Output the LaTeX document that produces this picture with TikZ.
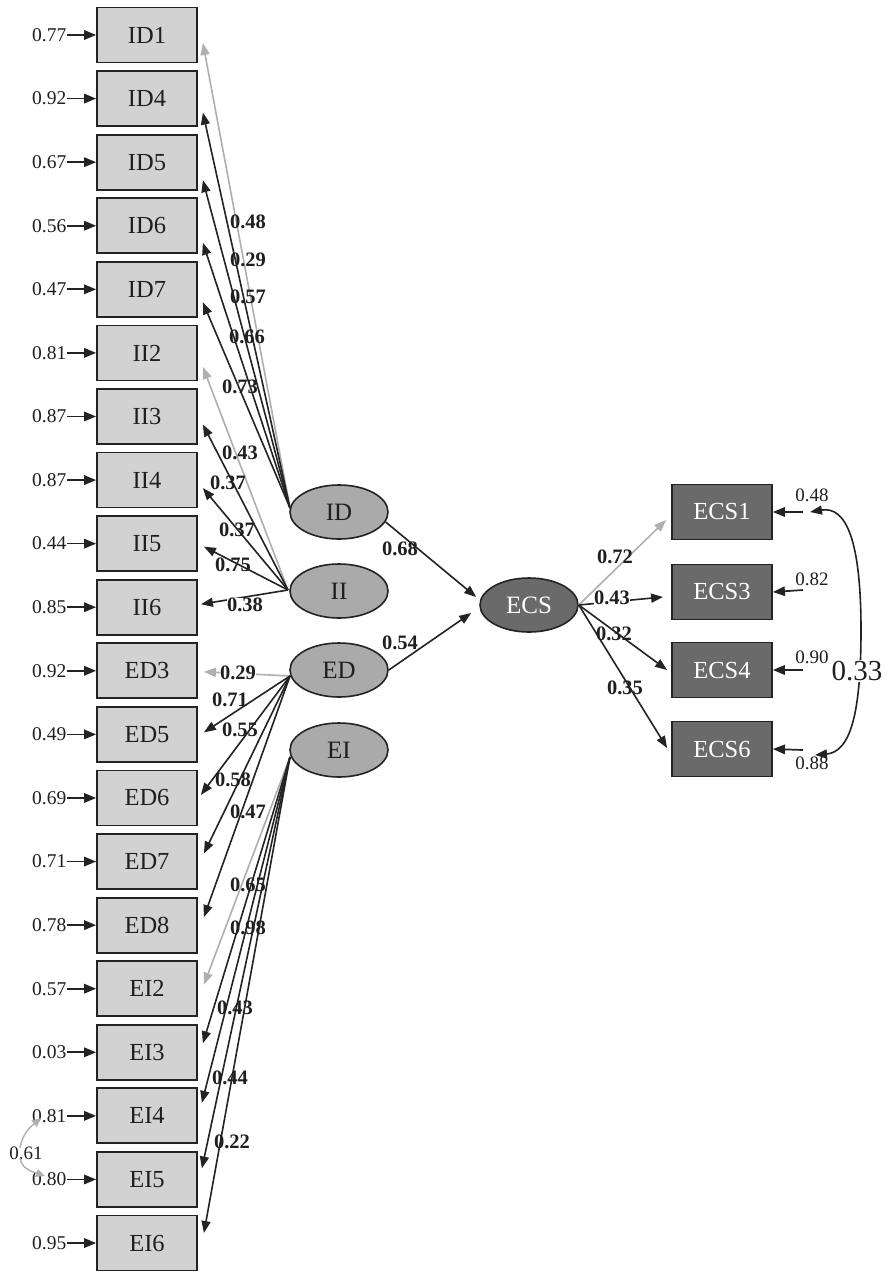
\documentclass[tikz,border=0pt]{standalone}
\usepackage{fontspec}
\setmainfont{Liberation Serif}
\usetikzlibrary{shapes.geometric,arrows.meta,calc}
\definecolor{boxfill}{RGB}{210,210,210}
\definecolor{latfill}{RGB}{170,170,170}
\definecolor{darkfill}{RGB}{106,106,106}
\definecolor{lineblk}{RGB}{35,35,35}
\definecolor{fixgray}{RGB}{175,175,175}
\begin{document}
\begin{tikzpicture}[x=1pt,y=-1pt,
  obsbox/.style={rectangle,draw=lineblk,line width=1.8pt,fill=boxfill,minimum width=100pt,minimum height=55pt,inner sep=0pt,text=black!88,font=\fontsize{24.5}{26}\selectfont},
  ecsbox/.style={obsbox,fill=darkfill,text=white},
  latent/.style={ellipse,draw=lineblk,line width=1.6pt,fill=latfill,minimum width=98pt,minimum height=54pt,inner sep=0pt,text=black!88,font=\fontsize{25}{26}\selectfont},
  errlab/.style={anchor=east,inner sep=0.5pt,text=black!88,font=\fontsize{19.5}{20}\selectfont},
  rerrlab/.style={inner sep=0.5pt,text=black!88,font=\fontsize{19}{20}\selectfont},
  errarr/.style={-{Triangle[length=12pt,width=9.5pt]},line width=1.7pt,draw=lineblk},
  load/.style={-{Triangle[length=12pt,width=9pt]},line width=1.6pt,draw=lineblk},
  fixload/.style={load,draw=fixgray},
  lbl/.style={inner sep=0.5pt,text=black!88,font=\bfseries\fontsize{20.5}{21}\selectfont},
  lblw/.style={lbl,fill=white},
  covarr/.style={{Triangle[length=12pt,width=9pt]}-{Triangle[length=12pt,width=9pt]},line width=1.6pt,draw=lineblk},
  gcovarr/.style={-{Triangle[length=9pt,width=8pt]},line width=1.4pt,draw=fixgray}]
\useasboundingbox[fill=white] (0,0) rectangle (887,1272);

% observed indicators (left column)
\foreach \n/\v [count=\i from 0] in {ID1/0.77,ID4/0.92,ID5/0.67,ID6/0.56,ID7/0.47,II2/0.81,II3/0.87,II4/0.87,II5/0.44,II6/0.85,ED3/0.92,ED5/0.49,ED6/0.69,ED7/0.71,ED8/0.78,EI2/0.57,EI3/0.03,EI4/0.81,EI5/0.80,EI6/0.95}{
  \node[obsbox] (\n) at (147,{35+63.58*\i}) {\n};
  \node[errlab] (e\n) at (67,{35+63.58*\i}) {\v};
  \draw[errarr] (e\n.east) -- (\n.west);
}

% latent factors
\node[latent] (ID) at (339,512) {ID};
\node[latent] (II) at (339,591) {II};
\node[latent] (ED) at (339,670) {ED};
\node[latent] (EI) at (339,750) {EI};
\node[latent,fill=darkfill,text=white] (ECS) at (529,605) {ECS};

% fan origins
\coordinate (IDo) at (290,508);
\coordinate (IIo) at (288,590);
\coordinate (EDo) at (290,676);
\coordinate (EIo) at (290,757);

% ID loadings
\draw[fixload] (IDo) -- ($(ID1.east)+(5,8)$);
\draw[load] (IDo) -- ($(ID4.east)+(5,14)$);
\draw[load] (IDo) -- ($(ID5.east)+(5,18)$);
\draw[load] (IDo) -- ($(ID6.east)+(5,17)$);
\draw[load] (IDo) -- ($(ID7.east)+(5,13)$);
% II loadings
\draw[fixload] (IIo) -- ($(II2.east)+(5,14)$);
\draw[load] (IIo) -- ($(II3.east)+(5,8)$);
\draw[load] (IIo) -- ($(II4.east)+(5,8)$);
\draw[load] (IIo) -- ($(II5.east)+(6,3)$);
\draw[load] (IIo) -- ($(II6.east)+(3,-3)$);
% ED loadings
\draw[fixload] (EDo) -- ($(ED3.east)+(6,1)$);
\draw[load] (EDo) -- ($(ED5.east)+(6,-2)$);
\draw[load] (EDo) -- ($(ED6.east)+(3,-3)$);
\draw[load] (EDo) -- ($(ED7.east)+(6,-8)$);
\draw[load] (EDo) -- ($(ED8.east)+(6,-8)$);
% EI loadings
\draw[fixload] (EIo) -- ($(EI2.east)+(6,-4)$);
\draw[load] (EIo) -- ($(EI3.east)+(5,-9)$);
\draw[load] (EIo) -- ($(EI4.east)+(4,-13)$);
\draw[load] (EIo) -- ($(EI5.east)+(4,-11)$);
\draw[load] (EIo) -- ($(EI6.east)+(6,-10)$);

% loading labels
\node[lbl] (l1) at (248,222) {0.48};
\node[lbl] (l2) at (248,260) {0.29};
\node[lbl] (l3) at (248,297) {0.57};
\node[lbl] (l4) at (247,337) {0.66};
\node[lbl] (l5) at (240,387) {0.73};
\node[lbl] (l6) at (240,453) {0.43};
\node[lbl] (l7) at (228,483) {0.37};
\node[lbl] (l8) at (237,530) {0.37};
\node[lbl] (l9) at (233,565) {0.75};
\node[lblw] (l10) at (245,605) {0.38};
\node[lblw] (l11) at (238,673) {0.29};
\node[lbl] (l12) at (230,700) {0.71};
\node[lbl] (l13) at (240,730) {0.55};
\node[lbl] (l14) at (233,780) {0.58};
\node[lbl] (l15) at (248,812) {0.47};
\node[lbl] (l16) at (248,885) {0.65};
\node[lbl] (l17) at (248,928) {0.98};
\node[lbl] (l18) at (235,1008) {0.43};
\node[lbl] (l19) at (230,1078) {0.44};
\node[lbl] (l20) at (232,1142) {0.22};

% structural paths
\draw[load] (ID.-12) -- ($(ECS.west)+(-3,-8)$);
\draw[load] (ED.east) -- ($(ECS.west)+(-8,8)$);
\node[lbl] (s1) at (400,549) {0.68};
\node[lbl] (s2) at (400,643) {0.54};

% ECS indicators
\node[ecsbox] (ECS1) at (722,512) {ECS1};
\node[ecsbox] (ECS3) at (722,592) {ECS3};
\node[ecsbox] (ECS4) at (722,670) {ECS4};
\node[ecsbox] (ECS6) at (722,749) {ECS6};

\draw[fixload] (ECS.east) -- ($(ECS1.west)+(-5,8)$);
\draw[load] (ECS.east) -- ($(ECS3.west)+(-8,5)$);
\draw[load] (ECS.east) -- ($(ECS4.west)+(-4,0)$);
\draw[load] (ECS.east) -- ($(ECS6.west)+(-4,-1)$);
\node[lbl] (k1) at (615,557) {0.72};
\node[lblw] (k2) at (612,598) {0.43};
\node[lbl] (k3) at (614,634) {0.32};
\node[lbl] (k4) at (625,688) {0.35};

% ECS error terms
\coordinate (r1) at (803,512);
\coordinate (r3) at (803,590);
\coordinate (r4) at (803,670);
\coordinate (r6) at (803,750);
\draw[errarr] (r1) -- (ECS1.east);
\draw[errarr] (r3) -- (ECS3.east);
\draw[errarr] (r4) -- (ECS4.east);
\draw[errarr] (r6) -- (ECS6.east);
\node[rerrlab] (v1) at (812,495) {0.48};
\node[rerrlab] (v3) at (812,579) {0.82};
\node[rerrlab] (v4) at (812,657) {0.90};
\node[rerrlab] (v6) at (812,763) {0.88};

% error covariance ECS1-ECS6
\coordinate (ct) at (810,512);
\coordinate (cb) at (815,755);
\draw[covarr] (ct) .. controls (846,506) and (861,540) .. (861,630) .. controls (861,715) and (850,752) .. (cb);
\node[inner sep=1pt,fill=white,text=black!88,font=\fontsize{29}{30}\selectfont] (c33) at (857,671) {0.33};

% error covariance EI4-EI5
\node[inner sep=0.5pt,text=black!88,font=\fontsize{19}{20}\selectfont] (c61) at (26,1153) {0.61};
\coordinate (g1) at (41,1118);
\coordinate (g2) at (45,1176);
\draw[gcovarr] ($(c61.north)+(-6,2)$) to[out=80,in=220] (g1);
\draw[gcovarr] ($(c61.south)+(-6,-2)$) to[out=-80,in=160] (g2);
\end{tikzpicture}
\end{document}
